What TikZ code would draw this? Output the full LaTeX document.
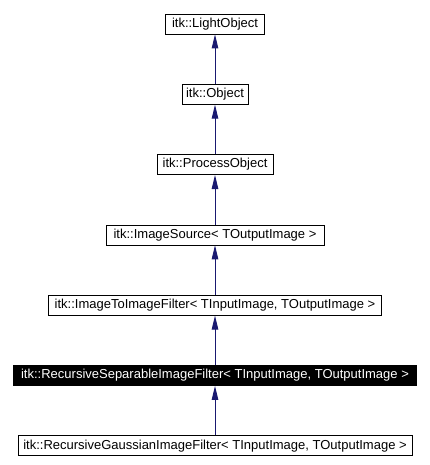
\documentclass[tikz,border=0pt]{standalone}
\usepackage{fontspec}
\setmainfont{Liberation Sans}
\usetikzlibrary{positioning, arrows.meta}

\begin{document}
\begin{tikzpicture}
    [x=1pt, y=-1pt,
    classnode/.style={rectangle, draw=black, line width=0.8pt, inner xsep=0pt, inner ysep=0pt, minimum height=20pt, font=\fontsize{13}{15}\selectfont},
    currentnode/.style={classnode, fill=black, text=white},
    inherit/.style={draw=midnightblue, line width=0.9pt, -{Triangle[length=14pt, width=6.5pt]}},
    node distance=49.5pt]

    \definecolor{midnightblue}{RGB}{25,25,112}
    \useasboundingbox (0,0) rectangle (430,465);

     %Nodes
    \node[classnode, minimum width=99pt](light) at (215,24) {itk::LightObject};
    \node[classnode, minimum width=66pt](object)[below=of light]{itk::Object};
    \node[classnode, minimum width=116pt](process)[below=of object]{itk::ProcessObject};
    \node[classnode, minimum width=218pt](source)[below=of process]{itk::ImageSource< TOutputImage >};
    \node[classnode, minimum width=333pt](imgtoimg)[below=of source]{itk::ImageToImageFilter< TInputImage, TOutputImage >};
    \node[currentnode, minimum width=403pt](separable)[below=of imgtoimg]{itk::RecursiveSeparableImageFilter< TInputImage, TOutputImage >};
    \node[classnode, minimum width=394pt](gaussian)[below=of separable]{itk::RecursiveGaussianImageFilter< TInputImage, TOutputImage >};

    %Lines
    \draw[inherit](object)--(light);
    \draw[inherit](process)--(object);
    \draw[inherit](source)--(process);
    \draw[inherit](imgtoimg)--(source);
    \draw[inherit](separable)--(imgtoimg);
    \draw[inherit](gaussian)--(separable);
\end{tikzpicture}
\end{document}
